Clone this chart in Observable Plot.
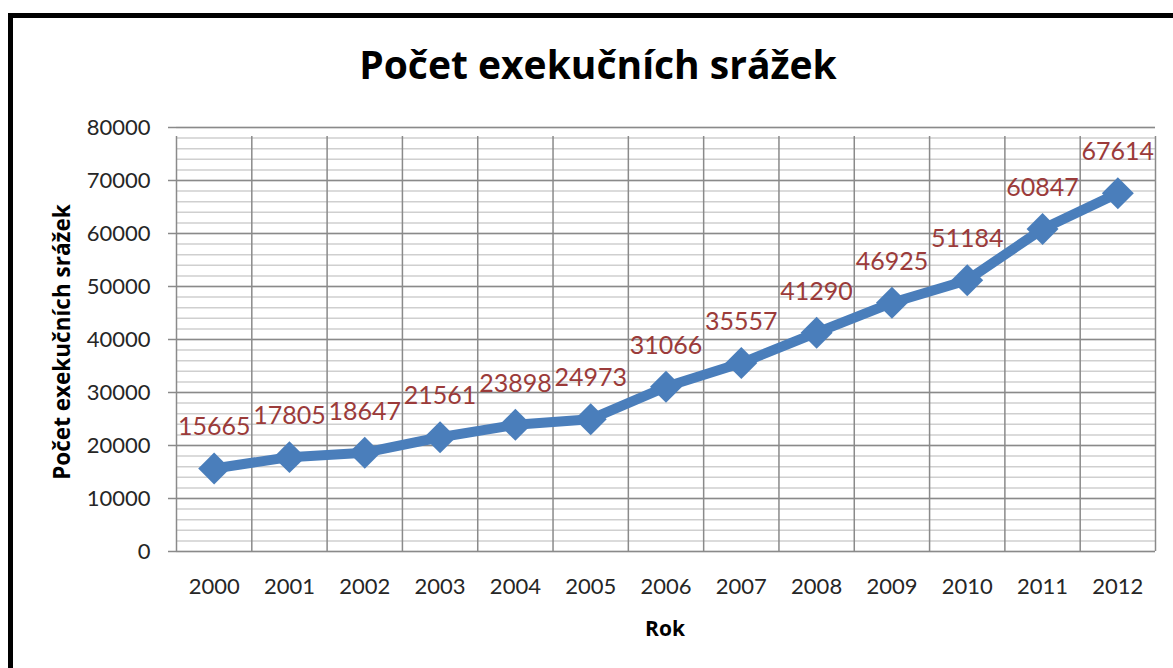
<!DOCTYPE html>
<html>
<head>
<meta charset="utf-8">
<script src="https://cdn.jsdelivr.net/npm/d3@7"></script>
<script src="https://cdn.jsdelivr.net/npm/@observablehq/plot@0.6"></script>
<style>
  html, body { margin: 0; padding: 0; background: #fff; }
  #wrap { position: relative; width: 1173px; height: 668px; overflow: hidden; font-family: Lato, "Open Sans", sans-serif; }
  #frame { position: absolute; left: 8px; top: 13px; width: 1300px; height: 800px; border-top: 5px solid #000; border-left: 5px solid #000; box-sizing: border-box; }
  #title { position: absolute; left: 0; width: 1196px; top: 44px; line-height: 39px; text-align: center; font-family: "Open Sans", sans-serif; font-weight: 700; font-size: 39px; color: #000; }
  #ylab { position: absolute; left: 61px; top: 342px; transform: translate(-50%, -50%) rotate(-90deg); white-space: nowrap; font-family: "Open Sans", sans-serif; font-weight: 700; font-size: 22.5px; color: #000; }
  #xlab { position: absolute; left: 665px; top: 628px; transform: translate(-50%, -50%); font-family: "Open Sans", sans-serif; font-weight: 700; font-size: 21px; color: #000; }
  #chart { position: absolute; left: 0; top: 0; }
</style>
</head>
<body>
<div id="wrap">
  <div id="chart"></div>
  <div id="frame"></div>
  <div id="title">Počet exekučních srážek</div>
  <div id="ylab">Počet exekučních srážek</div>
  <div id="xlab">Rok</div>
</div>
<script>
const years = [2000, 2001, 2002, 2003, 2004, 2005, 2006, 2007, 2008, 2009, 2010, 2011, 2012];
const counts = [15665, 17805, 18647, 21561, 23898, 24973, 31066, 35557, 41290, 46925, 51184, 60847, 67614];
const yMajorTicks = [0, 10000, 20000, 30000, 40000, 50000, 60000, 70000, 80000];
const yMinorStep = 2000;

const data = years.map((year, i) => ({year, count: counts[i]}));
const minorTicks = d3.range(0, 80000 + 1, yMinorStep);
const bounds = years.map(y => y - 0.5).concat([years[years.length - 1] + 0.5]);

const blue = "#4A7EBB";
const red = "#9B3B3A";

const plot = Plot.plot({
  width: 1173,
  height: 668,
  marginLeft: 176,
  marginRight: 18,
  marginTop: 127,
  marginBottom: 117,
  style: {fontFamily: "Lato, 'Open Sans', sans-serif", fontSize: "22px", color: "#262626", background: "transparent"},
  x: {type: "linear", domain: [bounds[0], bounds[bounds.length - 1]]},
  y: {type: "linear", domain: [0, 80000]},
  marks: [
    Plot.ruleY(minorTicks, {stroke: "#cfcfcf", strokeWidth: 1.5}),
    Plot.ruleY(yMajorTicks, {stroke: "#8a8a8a", strokeWidth: 1.5}),
    Plot.ruleX(bounds, {y1: 0, y2: 80000, insetBottom: -9, stroke: "#8a8a8a", strokeWidth: 1.5}),
    Plot.axisY({ticks: yMajorTicks, tickFormat: "d", tickSize: 8, tickPadding: 18, stroke: "#8a8a8a", strokeWidth: 1.5, fill: "#262626", fontSize: 22, label: null}),
    Plot.axisX({ticks: years, tickFormat: "d", tickSize: 0, tickPadding: 27, fill: "#262626", fontSize: 22, label: null}),
    Plot.line(data, {x: "year", y: "count", stroke: blue, strokeWidth: 10, strokeLinejoin: "round"}),
    Plot.dot(data, {x: "year", y: "count", symbol: "diamond2", r: 14.4, fill: blue, stroke: "none"}),
    Plot.text(data, {x: "year", y: "count", text: d => String(d.count), dy: -41, fill: red, fontSize: 25})
  ]
});
document.getElementById("chart").appendChild(plot);
</script>
</body>
</html>
